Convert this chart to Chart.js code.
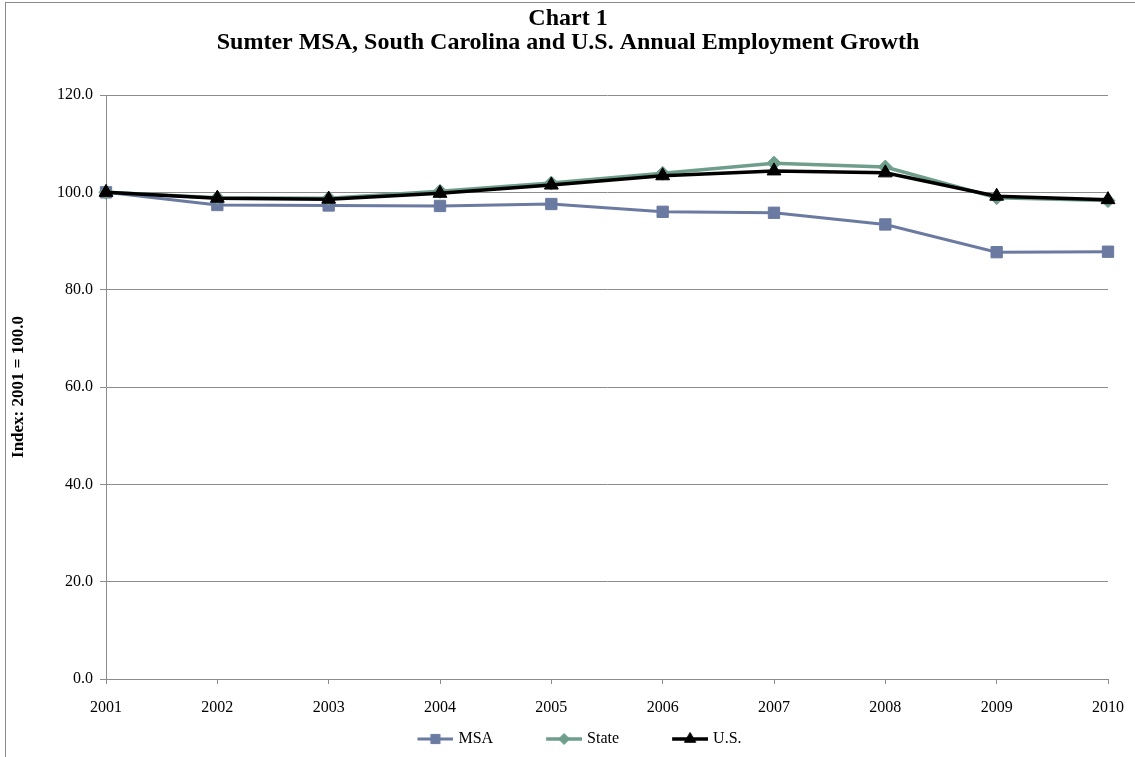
<!DOCTYPE html>
<html>
<head>
<meta charset="utf-8">
<title>Sumter MSA, South Carolina and U.S. Annual Employment Growth</title>
<script src="https://cdn.jsdelivr.net/npm/chart.js@4.4.0/dist/chart.umd.min.js"></script>
<style>
  html, body { margin: 0; padding: 0; background: #ffffff; overflow: hidden; }
  #wrap { position: relative; width: 1135px; height: 757px; overflow: hidden; }
  #frame { position: absolute; left: 5px; top: 2px; right: -20px; bottom: -20px;
           border-left: 1px solid #8a8a8a; border-top: 1px solid #8a8a8a; pointer-events: none; }
  canvas { display: block; }
</style>
</head>
<body>
<div id="wrap">
  <canvas id="chart" width="1135" height="757"></canvas>
  <div id="frame"></div>
</div>
<script>
// Employment index, 2001 = 100.0
const years = ['2001', '2002', '2003', '2004', '2005', '2006', '2007', '2008', '2009', '2010'];
const msaIndex   = [100.0, 97.4, 97.3, 97.2, 97.6, 96.0, 95.8, 93.4, 87.7, 87.8];
const stateIndex = [100.0, 98.9, 98.8, 100.2, 101.9, 103.9, 106.0, 105.2, 98.9, 98.3];
const usIndex    = [100.0, 98.8, 98.6, 99.8, 101.5, 103.4, 104.4, 104.0, 99.2, 98.5];
const seriesNames = ['MSA', 'State', 'U.S.'];
const titleLines = ['Chart 1', 'Sumter MSA, South Carolina and U.S. Annual Employment Growth'];
const yAxisTitle = 'Index: 2001 = 100.0';
const yMin = 0, yMax = 120, yStep = 20;

const SERIF = "'Liberation Serif', 'Times New Roman', serif";
const GRID = '#8c8c8c';
const COLORS = ['#6b7aa1', '#6f9e8b', '#000000'];
const STYLES = ['rect', 'rectRot', 'triangle'];
const RADII = [8, 7, 8];
const WIDTHS = [3, 3.5, 3.5];

// Legend key: a short line with the series marker in its middle
const LEGEND_BOX = 78, LEGEND_FONT = 16, KEY_GAP = 5, KEY_LEN = 36;
// Sideways offsets of the title and legend blocks, so they sit centred on the whole frame
const TITLE_SHIFT = 14, LEGEND_SHIFT = 3;
function legendKey(i) {
  const w = 2 * (LEGEND_BOX / 2 + LEGEND_FONT / 2 - KEY_GAP), h = 20;
  const c = document.createElement('canvas');
  c.width = w; c.height = h;
  const g = c.getContext('2d');
  g.strokeStyle = COLORS[i];
  g.lineWidth = WIDTHS[i];
  g.beginPath();
  g.moveTo(w - KEY_LEN, h / 2);
  g.lineTo(w, h / 2);
  g.stroke();
  g.fillStyle = COLORS[i];
  g.lineWidth = 1;
  Chart.helpers.drawPoint(g, { pointStyle: STYLES[i], radius: RADII[i] - 1.5, rotation: 0, borderWidth: 1 },
    w - KEY_LEN / 2, h / 2);
  return c;
}

const blockNudge = {
  id: 'blockNudge',
  afterLayout(chart) {
    if (chart.legend) {
      chart.legend.left += LEGEND_SHIFT;
      chart.legend.right += LEGEND_SHIFT;
    }
    if (chart.titleBlock) {
      chart.titleBlock.left += TITLE_SHIFT;
      chart.titleBlock.right += TITLE_SHIFT;
    }
  }
};

const seriesValues = [msaIndex, stateIndex, usIndex];
const datasets = seriesNames.map((name, i) => ({
  label: name,
  data: seriesValues[i],
  borderColor: COLORS[i],
  backgroundColor: COLORS[i],
  borderWidth: WIDTHS[i],
  pointStyle: STYLES[i],
  pointRadius: RADII[i],
  pointHoverRadius: RADII[i],
  pointBackgroundColor: COLORS[i],
  pointBorderColor: COLORS[i],
  pointBorderWidth: 1,
  tension: 0,
  fill: false,
  order: seriesNames.length - 1 - i
}));

new Chart(document.getElementById('chart'), {
  type: 'line',
  data: { labels: years, datasets },
  plugins: [blockNudge],
  options: {
    responsive: false,
    animation: false,
    events: [],
    layout: { padding: { left: 0, right: 27, top: 0, bottom: 0 } },
    plugins: {
      tooltip: { enabled: false },
      title: {
        display: true,
        text: titleLines,
        color: '#000',
        font: { family: SERIF, size: 24, weight: 'bold', lineHeight: 1.0 },
        padding: { top: 7, bottom: 40 }
      },
      legend: {
        display: true,
        position: 'bottom',
        labels: {
          usePointStyle: true,
          pointStyleWidth: LEGEND_BOX,
          padding: 8,
          color: '#000',
          font: { family: SERIF, size: LEGEND_FONT },
          generateLabels: (chart) => chart.data.datasets.map((ds, i) => ({
            text: ds.label,
            pointStyle: legendKey(i),
            fillStyle: COLORS[i],
            strokeStyle: COLORS[i],
            lineWidth: 0,
            hidden: false,
            datasetIndex: i,
            fontColor: '#000'
          }))
        }
      }
    },
    scales: {
      x: {
        type: 'category',
        offset: false,
        grid: { display: true, drawOnChartArea: false, drawTicks: true, tickLength: 5, color: GRID },
        border: { display: true, color: GRID, width: 1 },
        ticks: { color: '#000', font: { family: SERIF, size: 16 }, padding: 14, maxRotation: 0, autoSkip: false },
        afterFit: (s) => { s.height = 44; s.paddingLeft = 0; s.paddingRight = 0; }
      },
      y: {
        type: 'linear',
        position: 'left',
        min: yMin,
        max: yMax,
        grid: { color: GRID, lineWidth: 1, tickLength: 6, drawTicks: true },
        border: { display: true, color: GRID, width: 1 },
        ticks: { stepSize: yStep, color: '#000', font: { family: SERIF, size: 16 }, padding: 7,
                 callback: (v) => Number(v).toFixed(1) },
        title: { display: true, text: yAxisTitle, color: '#000',
                 font: { family: SERIF, size: 17, weight: 'bold', lineHeight: 1.0 },
                 padding: { top: 10, bottom: 0 } },
        afterFit: (s) => { s.width = 106; s.paddingTop = 0; s.paddingBottom = 0; }
      }
    }
  }
});
</script>
</body>
</html>
